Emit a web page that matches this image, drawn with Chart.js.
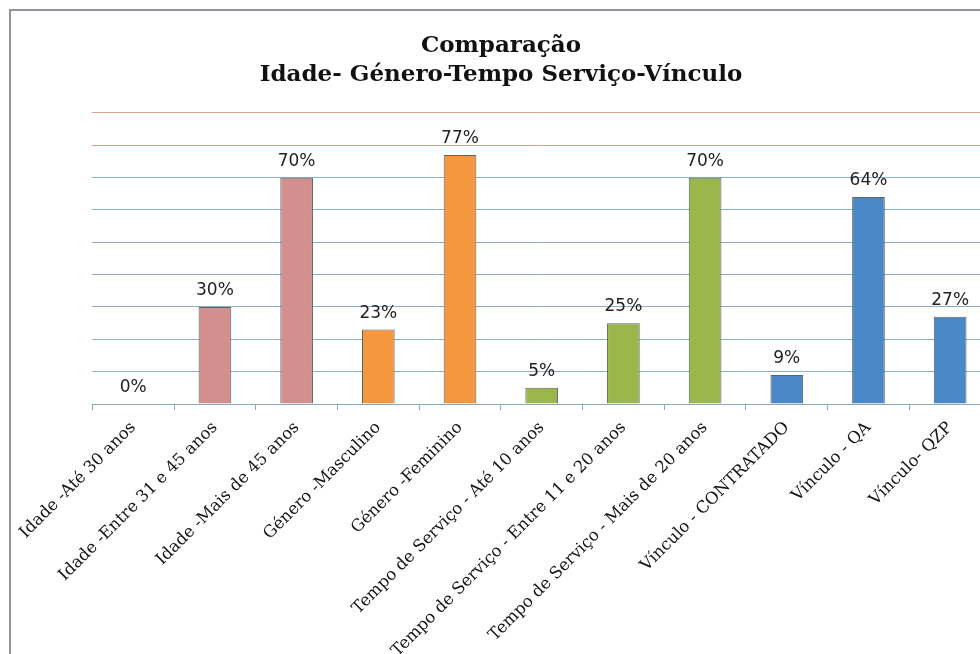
<!DOCTYPE html>
<html>
<head>
<meta charset="utf-8">
<script src="https://cdn.jsdelivr.net/npm/chart.js@4.4.1/dist/chart.umd.min.js"></script>
<style>
  html, body { margin: 0; padding: 0; width: 980px; height: 654px; overflow: hidden; background: #ffffff; }
  #frame { position: absolute; left: 9px; top: 9px; width: 1000px; height: 700px;
           border-left: 2px solid #8e9499; border-top: 2px solid #8e9499; }
  #wrap { position: absolute; left: 0; top: 0; width: 980px; height: 643px; }
</style>
</head>
<body>
<div id="frame"><div id="wrap"><canvas id="c"></canvas></div></div>
<script>
const titleLines = ["Comparação", "Idade- Género-Tempo Serviço-Vínculo"];
const categories = [
  "Idade -Até 30 anos",
  "Idade -Entre 31 e 45 anos",
  "Idade -Mais de 45 anos",
  "Género -Masculino",
  "Género -Feminino",
  "Tempo de Serviço - Até 10 anos",
  "Tempo de Serviço - Entre 11 e 20 anos",
  "Tempo de Serviço - Mais de 20 anos",
  "Vínculo - CONTRATADO",
  "Vínculo - QA",
  "Vínculo- QZP"
];
const values = [0, 30, 70, 23, 77, 5, 25, 70, 9, 64, 27];
const yMax = 90;
const yStep = 10;
const barColors = [
  "#d38f8e", "#d38f8e", "#d38f8e",
  "#f4973f", "#f4973f",
  "#9bb64a", "#9bb64a", "#9bb64a",
  "#4a88c7", "#4a88c7", "#4a88c7"
];

const valueLabels = {
  id: "valueLabels",
  afterDatasetsDraw(chart) {
    const ctx = chart.ctx;
    const meta = chart.getDatasetMeta(0);
    ctx.save();
    ctx.font = "17px 'DejaVu Sans'";
    ctx.fillStyle = "#222222";
    ctx.textAlign = "center";
    ctx.textBaseline = "alphabetic";
    meta.data.forEach((bar, i) => {
      ctx.fillText(Math.round(values[i]) + "%", bar.x, bar.y - 12);
    });
    ctx.restore();
  }
};

new Chart(document.getElementById("c"), {
  type: "bar",
  data: {
    labels: categories,
    datasets: [{
      data: values,
      backgroundColor: barColors,
      borderColor: "#5b6565",
      borderWidth: 1,
      categoryPercentage: 1.0,
      barPercentage: 0.4
    }]
  },
  options: {
    responsive: true,
    maintainAspectRatio: false,
    animation: false,
    layout: { padding: { left: 0, right: 0, top: 0, bottom: 0 } },
    plugins: {
      legend: { display: false },
      tooltip: { enabled: false },
      title: {
        display: true,
        text: titleLines,
        color: "#111111",
        font: { family: "'DejaVu Serif'", size: 23, weight: "bold", lineHeight: 1.26 },
        padding: { top: 21, bottom: 23 }
      }
    },
    scales: {
      y: {
        min: 0,
        max: yMax,
        ticks: { display: false, stepSize: yStep },
        border: { display: false },
        grid: {
          drawTicks: false,
          lineWidth: 1,
          color: (c) => {
            if (!c.tick || c.tick.value === 0) return "rgba(0,0,0,0)";
            return c.tick.value >= 80 ? "#d9a490" : "#8ab2c6";
          }
        },
        afterFit: (s) => { s.width = 80; }
      },
      x: {
        offset: true,
        border: { display: true, color: "#8aa9b8", width: 1 },
        grid: { display: true, drawOnChartArea: false, drawTicks: true, tickLength: 6, color: "#8aa9b8", offset: true },
        ticks: {
          minRotation: 45,
          maxRotation: 45,
          autoSkip: false,
          padding: 8,
          color: "#151515",
          font: { family: "'DejaVu Serif'", size: 16.5 }
        },
        afterFit: (s) => { s.height = 250; }
      }
    }
  },
  plugins: [valueLabels]
});
</script>
</body>
</html>
